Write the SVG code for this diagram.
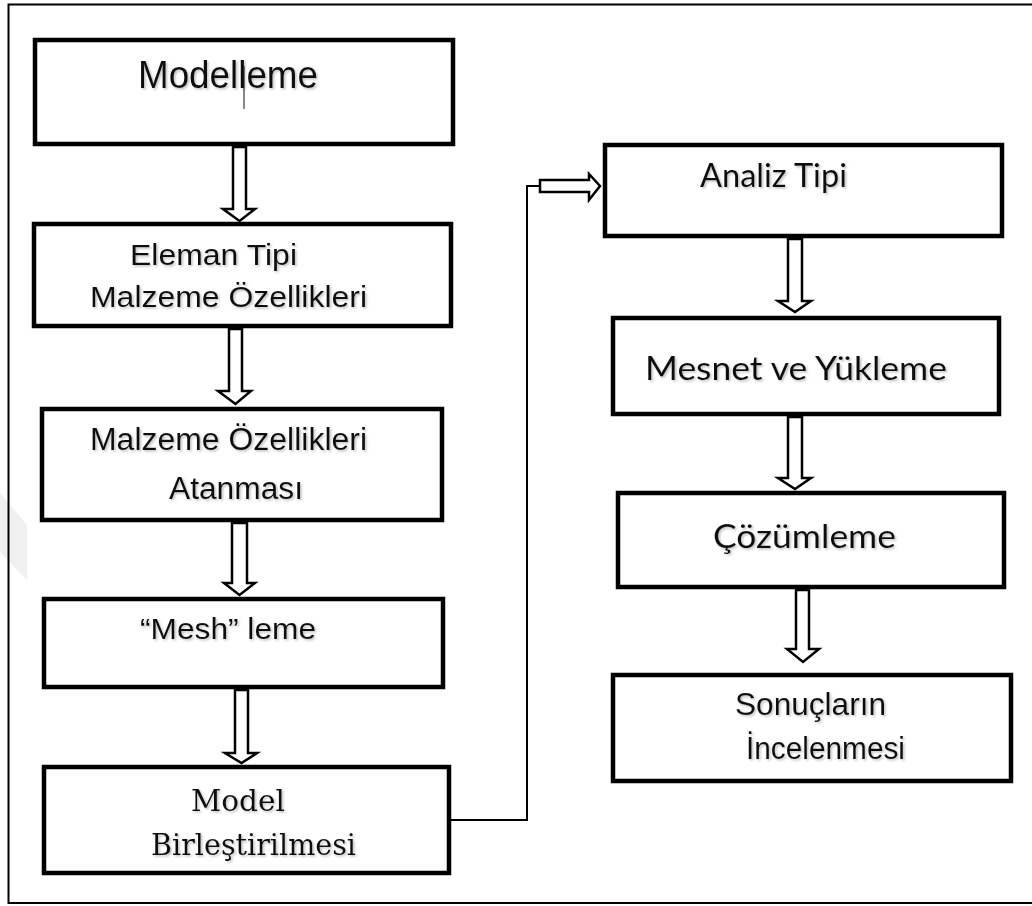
<svg xmlns="http://www.w3.org/2000/svg" width="1032" height="906" viewBox="0 0 1032 906">
<defs>
<filter id="sh" x="-10%" y="-30%" width="120%" height="160%">
<feDropShadow dx="1.5" dy="1.5" stdDeviation="1" flood-color="#888" flood-opacity="0.55"/>
</filter>
</defs>
<style>
.box{fill:#fff;stroke:#000;stroke-width:4.5}
.arr{fill:#fff;stroke:#000;stroke-width:2.5;stroke-linejoin:miter}
.line{fill:none;stroke:#000;stroke-width:2}
.sans{font-family:"Liberation Sans",Arial,sans-serif;fill:#111;filter:url(#sh)}
.serif{font-family:"DejaVu Serif","Liberation Serif",serif;fill:#111;filter:url(#sh)}
.cal{font-family:Lato,"Noto Sans",sans-serif;fill:#111;filter:url(#sh)}
</style>
<rect width="1032" height="906" fill="#fff"/>
<polygon points="0,493 27,525 27,580 0,552" fill="#f0f0f0"/>
<path d="M1032,4.5 H8.5 V903 H1032" fill="none" stroke="#000" stroke-width="2"/>

<g id="connectors">
<path class="arr" d="M233,147 H246 V209 H255 L239.5,221 L223,209 H233 Z"/>
<path class="arr" d="M229,329 H242 V391 H251 L235.5,404 L218,391 H229 Z"/>
<path class="arr" d="M232,523 H247 V583 H255 L239.5,595 L224,583 H232 Z"/>
<path class="arr" d="M235,690 H248 V753 H257 L241.5,763 L225,753 H235 Z"/>
<path class="arr" d="M788,239 H802 V301 H811 L795,312 L778,301 H788 Z"/>
<path class="arr" d="M788,417 H802 V478 H811 L795,489 L778,478 H788 Z"/>
<path class="arr" d="M796,590 H809 V649 H819 L803,662 L787,649 H796 Z"/>
<polyline class="line" points="451,820 527,820 527,186 540,186"/>
<path class="arr" d="M540,180 H589 V174 L600,186 L589,200 V192 H540 Z"/>
</g>

<g id="n1">
<rect class="box" x="35" y="40" width="418" height="104"/>
<text class="sans" x="138" y="88" font-size="38" textLength="180" lengthAdjust="spacingAndGlyphs">Modelleme</text>
<line x1="244" y1="66" x2="244" y2="109" stroke="#111" stroke-width="1"/>
</g>
<g id="n2">
<rect class="box" x="34" y="224" width="417" height="102"/>
<text class="sans" x="130" y="265" font-size="30" textLength="167" lengthAdjust="spacingAndGlyphs">Eleman Tipi</text>
<text class="sans" x="90" y="307" font-size="30" textLength="277" lengthAdjust="spacingAndGlyphs">Malzeme Özellikleri</text>
</g>
<g id="n3">
<rect class="box" x="42" y="409" width="400" height="111"/>
<text class="sans" x="90" y="450" font-size="31" textLength="277" lengthAdjust="spacingAndGlyphs">Malzeme Özellikleri</text>
<text class="sans" x="169" y="499" font-size="31" textLength="134" lengthAdjust="spacingAndGlyphs">Atanması</text>
</g>
<g id="n4">
<rect class="box" x="44" y="599" width="399" height="88"/>
<text class="sans" x="140" y="639" font-size="30" textLength="176" lengthAdjust="spacingAndGlyphs">“Mesh” leme</text>
</g>
<g id="n5">
<rect class="box" x="44" y="767" width="405" height="106"/>
<text class="serif" x="191" y="811" font-size="30" textLength="94" lengthAdjust="spacingAndGlyphs">Model</text>
<text class="serif" x="151" y="855" font-size="30" textLength="205" lengthAdjust="spacingAndGlyphs">Birleştirilmesi</text>
</g>
<g id="n6">
<rect class="box" x="605" y="145" width="397" height="91"/>
<text class="cal" x="700" y="187" font-size="33" textLength="147" lengthAdjust="spacingAndGlyphs">Analiz Tipi</text>
</g>
<g id="n7">
<rect class="box" x="613" y="318" width="386" height="96"/>
<text class="cal" x="645" y="380" font-size="33" textLength="302" lengthAdjust="spacingAndGlyphs">Mesnet ve Yükleme</text>
</g>
<g id="n8">
<rect class="box" x="618" y="493" width="386" height="94"/>
<text class="cal" x="713" y="548" font-size="33" textLength="183" lengthAdjust="spacingAndGlyphs">Çözümleme</text>
</g>
<g id="n9">
<rect class="box" x="613" y="675" width="398" height="106"/>
<text class="sans" x="735" y="715" font-size="32" textLength="151" lengthAdjust="spacingAndGlyphs">Sonuçların</text>
<text class="sans" x="746" y="759" font-size="31" textLength="159" lengthAdjust="spacingAndGlyphs">İncelenmesi</text>
</g>
</svg>
